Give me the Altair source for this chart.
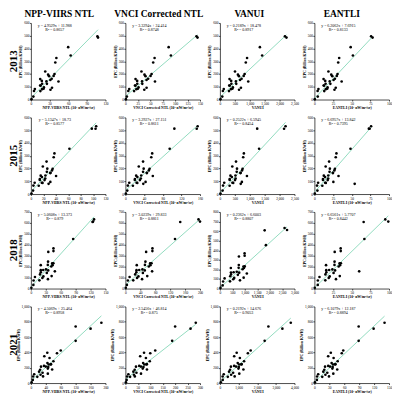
import altair as alt
import pandas as pd

provinces = ["GD","JS","SD","ZJ","HEB","HEN","NMG","LN","SC","SX","FJ","HUB","HUN","XJ","AH","SH",
             "GX","YN","SN","GZ","GS","JX","BJ","TJ","HLJ","NX","QH","JL","CQ","HAN","XZ"]
years = ["2013", "2015", "2018", "2021"]
index_names = ["NPP-VIIRS NTL", "VNCI Corrected NTL", "VANUI", "EANTLI"]
x_titles = ["NPP-VIIRS NTL (10⁴ nW/m²/sr)", "VNCI Corrected NTL (10⁴ nW/m²/sr)",
            "VANUI", "EANTLI (10⁴ nW/m²/sr)"]

# EPC (billion kWh) per province
epc_2013 = [485,495,410,345,325,290,220,200,195,183,185,163,142,160,153,141,124,146,123,110,109,95,92,77,84,82,67,66,81,23,3]
epc_2015 = [531,511,512,355,318,288,254,198,199,174,185,166,145,216,164,141,133,144,122,117,110,109,95,80,87,88,66,65,88,27,4]
epc_2018 = [632,612,608,453,367,342,335,230,246,216,231,202,175,214,214,157,170,168,166,148,129,143,114,86,97,106,74,75,111,33,7]
epc_2021 = [787,710,738,551,425,389,396,242,327,261,285,247,215,350,243,177,224,214,208,174,149,189,123,87,109,115,86,81,134,41,11]

npp_2013 = [108,107,60,64,41,39.3,23.1,38,27.7,29.3,36.6,33.5,25,15,31.3,44.4,18.1,17.6,25.8,14.9,15.7,21,34,31.5,20.4,6.4,5,15.3,18.1,4,1]
vnci_2013 = [145,143,87,91.5,58.7,55.9,32.3,52.7,38.4,40.5,50.6,45.8,33.5,20.4,42.5,59.5,23.9,23.7,34,19.3,20.3,26.5,42.6,38,25,7.8,5.8,17.5,22.1,3,1]
vanui_2013 = [2230,2180,1340,1416,910,868,506,829,604,638,798,726,536,323,675,950,386,378,548,313,330,436,705,641,419,130,100,304,370,80,20]
eantli_2013 = [78,76,48.6,51.6,33.2,31.9,18.8,31,22.6,24,30,27.5,20.5,12.3,25.7,36.5,15,14.5,21.4,12.4,13,17.6,28.6,26.9,17.2,5.4,4.3,13.2,15.3,4.5,0.5]

npp_2015 = [105,104,98,62,37.9,36.7,25.2,35,26.4,25.7,34,31.6,23.4,19.2,31.1,40.5,17.8,15.8,23.1,14.4,14.3,22,31.3,28.5,18.7,6.1,4.1,12.6,17.6,3.5,1]
vnci_2015 = [155,153,105,95,57.5,55.5,37.9,51.9,39.2,37.9,50.4,46.4,34,28.7,45.8,58.8,25.7,23.1,33.1,20.5,20.2,31.1,43.3,38.4,25.5,8.3,5.3,16.1,24,4,1]
vanui_2015 = [2200,2150,1250,1313,803,781,540,760,573,564,743,695,521,416,688,906,401,354,527,328,328,507,737,698,446,145,106,325,420,90,20]
eantli_2015 = [76,74,73,48.4,29.5,28.6,19.7,27.5,20.7,20.3,26.8,25,18.6,15.1,24.7,32.3,14.3,12.6,18.5,11.5,11.5,17.8,25.4,54,15.3,5,3.5,10.6,14.4,4,0.5]

npp_2018 = [127,125,124,85,45.4,45.4,35,42.8,34.5,34,45.2,41,30.3,19.8,43.6,48.2,24.8,19.9,34.8,20,18.3,32,41.7,34.3,23.1,8.2,5.4,17.1,25.1,5,1]
vnci_2018 = [196,200,147,133,72.5,72.4,55.6,66.3,53.7,52.4,70,62.7,45.7,30.5,67.1,71.6,37.1,29.8,51.9,29.3,26.2,46.9,58.6,44.7,31.2,11.3,6.6,21,35,4,1]
vanui_2018 = [2600,2700,1800,1850,993,995,765,947,760,754,999,911,678,440,967,1083,553,444,776,449,415,722,955,807,536,189,129,406,574,110,25]
eantli_2018 = [95,99,66,67,35.2,35.3,27.2,33.7,27,26.9,35.5,32.5,24.1,15.6,34.4,60,19.8,15.9,27.7,16,14.8,25.7,34,28.9,19.2,6.8,4.6,14.6,20.5,4.5,0.5]

npp_2021 = [189,160,120,120,80,70,44,48,50,44.4,60.4,54,40,36,53,57,35.2,27.2,46.6,24.7,21.9,45.4,45.4,32.6,25.9,8.9,6,17.2,31.3,5,2]
vnci_2021 = [283,262,200,188,120,100,75,76.6,82.5,71.4,98,86.4,62.7,59.5,84.6,86.7,55.6,42.6,72.7,37.4,32.1,69.7,62.8,37.9,34.2,12,6.9,18.8,44.5,5,2]
vanui_2021 = [3800,3350,2600,2400,1650,1500,900,1038,1070,956,1296,1167,868,766,1146,1260,765,591,1015,545,490,995,1040,792,603,206,147,424,709,150,50]
eantli_2021 = [141,119,89,89,58,55,33,37.6,38.6,34.6,46.8,42.3,31.5,27.7,41.6,45.9,27.8,21.4,36.8,19.9,17.9,36.1,38,29.3,22.1,7.6,5.4,15.8,25.9,5,1]

# Regression equations per panel
slopes = [[4.9529, 3.3294, 0.2189, 6.2062],
          [5.1347, 3.2927, 0.2522, 6.6957],
          [5.0608, 3.0239, 0.2362, 6.6561],
          [4.5069, 2.5456, 0.2192, 6.1079]]
intercepts = [[11.988, 24.414, 18.478, 7.6915],
              [18.73, 27.151, 6.5945, 13.842],
              [13.373, 29.833, 6.6003, 5.7707],
              [25.464, 46.814, 14.676, 12.187]]
eq_labels = [["y = 4.9529x + 11.988", "y = 3.3294x + 24.414", "y = 0.2189x + 18.478", "y = 6.2062x + 7.6915"],
             ["y = 5.1347x + 18.73", "y = 3.2927x + 27.151", "y = 0.2522x + 6.5945", "y = 6.6957x + 13.842"],
             ["y = 5.0608x + 13.373", "y = 3.0239x + 29.833", "y = 0.2362x + 6.6003", "y = 6.6561x + 5.7707"],
             ["y = 4.5069x + 25.464", "y = 2.5456x + 46.814", "y = 0.2192x + 14.676", "y = 6.1079x + 12.187"]]
r2_labels = [["R² = 0.8657", "R² = 0.8748", "R² = 0.8917", "R² = 0.8133"],
             ["R² = 0.8577", "R² = 0.8611", "R² = 0.8454", "R² = 0.7395"],
             ["R² = 0.879", "R² = 0.8811", "R² = 0.8807", "R² = 0.8442"],
             ["R² = 0.8958", "R² = 0.875", "R² = 0.9053", "R² = 0.8894"]]

# Axis ticks per panel
x_ticks = [[[0,30,60,90,120], [0,25,50,75,100,125,150], [0,500,1000,1500,2000,2500], [0,25,50,75,100]],
           [[0,20,40,60,80,100,120], [0,40,80,120,160], [0,500,1000,1500,2000,2500], [0,25,50,75,100]],
           [[0,30,60,90,120,150], [0,40,80,120,160,200], [0,500,1000,1500,2000,2500,3000], [0,25,50,75,100]],
           [[0,40,80,120,160,200], [0,50,100,150,200,250,300], [0,1000,2000,3000,4000], [0,30,60,90,120,150]]]
y_ticks = [[[0,100,200,300,400,500,600]] * 4,
           [[0,100,200,300,400,500,600]] * 4,
           [[0,100,200,300,400,500,600,700], [0,100,200,300,400,500,600,700],
            [0,100,200,300,400,500,600,700,800], [0,100,200,300,400,500,600,700]],
           [[0,200,400,600,800,1000]] * 4]

epc = [epc_2013, epc_2015, epc_2018, epc_2021]
xvals = [[npp_2013, vnci_2013, vanui_2013, eantli_2013],
         [npp_2015, vnci_2015, vanui_2015, eantli_2015],
         [npp_2018, vnci_2018, vanui_2018, eantli_2018],
         [npp_2021, vnci_2021, vanui_2021, eantli_2021]]

SERIF = "Liberation Serif"
W, H = 75, 77
title_dx = [-9, -4, -8, -10]

panels = []
for r in range(4):
    for c in range(4):
        xs = xvals[r][c]
        df = pd.DataFrame({"province": provinces, "x": xs, "y": epc[r]})
        xt, yt = x_ticks[r][c], y_ticks[r][c]
        xscale = alt.Scale(domain=[xt[0], xt[-1]], nice=False)
        yscale = alt.Scale(domain=[yt[0], yt[-1]], nice=False)
        xenc = alt.X("x:Q", scale=xscale, axis=alt.Axis(values=xt, title=x_titles[c]))
        yenc = alt.Y("y:Q", scale=yscale, axis=alt.Axis(values=yt, title="EPC (Billion KWH)"))
        a, b = slopes[r][c], intercepts[r][c]
        line = (alt.Chart(pd.DataFrame({"x": [min(xs), max(xs)]}))
                .transform_calculate(y=f"{a}*datum.x+{b}")
                .mark_line(color="#92dcc0", strokeWidth=1)
                .encode(x=xenc, y=yenc))
        pts = (alt.Chart(df).mark_circle(color="black", size=7, opacity=1)
               .encode(x=xenc, y=yenc))
        eq = (alt.Chart(pd.DataFrame({"t": [eq_labels[r][c]]}))
              .mark_text(font=SERIF, fontSize=4, color="black")
              .encode(text="t:N", x=alt.value(24), y=alt.value(3)))
        r2 = (alt.Chart(pd.DataFrame({"t": [r2_labels[r][c]]}))
              .mark_text(font=SERIF, fontSize=4, color="black")
              .encode(text="t:N", x=alt.value(24), y=alt.value(7)))
        layers = [line, pts, eq, r2]
        if c == 0:
            lab = (alt.Chart(pd.DataFrame({"t": [years[r]]}))
                   .mark_text(font=SERIF, fontSize=11, fontWeight="bold", angle=270, color="black")
                   .encode(text="t:N", x=alt.value(-17), y=alt.value(H / 2)))
            layers.append(lab)
        ch = alt.layer(*layers).properties(width=W, height=H)
        if r == 0:
            ch = ch.properties(title=alt.TitleParams(index_names[c], font=SERIF, fontSize=9.5,
                                                     fontWeight="bold", offset=2, color="black",
                                                     frame="group", dx=title_dx[c]))
        panels.append(ch)

chart = (alt.concat(*panels, columns=4, spacing={"row": 18, "column": 20}, bounds="flush")
         .properties(padding={"left": 0, "top": 0, "right": 0, "bottom": 0}, background="white")
         .configure_view(stroke=None)
         .configure_axis(grid=False, labelFont=SERIF, titleFont=SERIF, labelFontSize=3.5,
                         titleFontSize=3.8, titleFontWeight="bold", labelColor="black",
                         titleColor="black", domainColor="black", tickColor="black",
                         tickSize=1.5, labelPadding=0.5, titlePadding=0.8, domainWidth=0.7,
                         tickWidth=0.7, labelOverlap=False, labelFlush=False))

chart.save("out.html", embed_options={"renderer": "svg", "actions": False})
